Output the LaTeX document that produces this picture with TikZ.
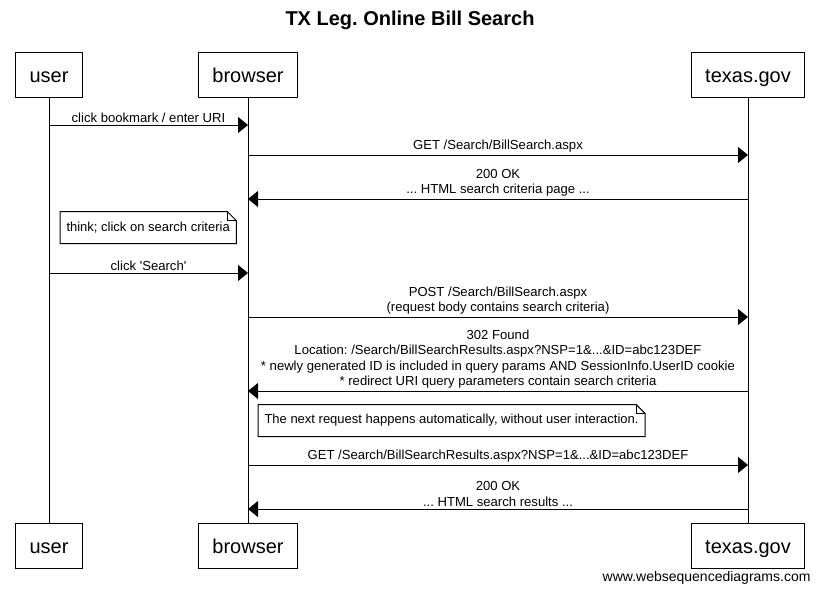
\documentclass[tikz,border=0pt]{standalone}
\usepackage{fontspec}
\setmainfont{Liberation Sans}
\usetikzlibrary{arrows.meta,positioning}
\tikzset{
  actor/.style={draw, minimum height=45pt, inner xsep=14pt, inner ysep=0pt,
                text height=15pt, text depth=0pt,
                font=\fontsize{20}{24}\selectfont},
  msg/.style={-{Triangle[length=10pt,width=16pt]}},
  lbl/.style={above, inner sep=2pt, align=center,
              font=\fontsize{13.1}{15.5}\selectfont},
  memo/.style={anchor=west, inner xsep=6pt, minimum height=31pt,
               font=\fontsize{13}{15.5}\selectfont}
}
\newcommand{\dogear}[1]{%
  \draw (#1.north west) -- ([xshift=-9pt]#1.north east)
        -- ([yshift=-9pt]#1.north east) -- (#1.south east)
        -- (#1.south west) -- cycle;
  \draw ([xshift=-9pt]#1.north east) -- ([xshift=-9pt,yshift=-9pt]#1.north east)
        -- ([yshift=-9pt]#1.north east);}
\begin{document}
\frenchspacing
\begin{tikzpicture}[x=1pt, y=-1pt, line width=1pt]
    \useasboundingbox (0,0) rectangle (820,592);
    %Title
    \node[font=\bfseries\fontsize{20}{24}\selectfont] (title) at (410,20) {TX Leg. Online Bill Search};
    %Participants
    \node[actor] (user) at (49,74.5) {user};
    \node[actor] (browser) at (248,74.5) {browser};
    \node[actor] (texas) at (748,74.5) {texas.gov};
    \node[actor] (userB) at (49,545.5) {user};
    \node[actor] (browserB) at (248,545.5) {browser};
    \node[actor] (texasB) at (748,545.5) {texas.gov};
    %Lifelines
    \foreach \p in {user, browser, texas}
      \draw (\p.south) -- (\p B.north);
    %Messages
    \draw[msg] (user.south |- 0,125) -- (browser.south |- 0,125)
      node[lbl, midway] {click bookmark / enter URI};
    \draw[msg] (browser.south |- 0,155) -- (texas.south |- 0,155)
      node[lbl, midway] {GET /Search/BillSearch.aspx};
    \draw[msg] (texas.south |- 0,199) -- (browser.south |- 0,199)
      node[lbl, midway] {200 OK\\... HTML search criteria page ...};
    %Note: think
    \node[memo] (think) at (60,227.5) {think; click on search criteria};
    \dogear{think}
    \draw[msg] (user.south |- 0,273) -- (browser.south |- 0,273)
      node[lbl, midway] {click \textquotesingle Search\textquotesingle};
    \draw[msg] (browser.south |- 0,317) -- (texas.south |- 0,317)
      node[lbl, midway] {POST /Search/BillSearch.aspx\\(request body contains search criteria)};
    \draw[msg] (texas.south |- 0,391) -- (browser.south |- 0,391)
      node[lbl, midway] {302 Found\\Location: /Search/BillSearchResults.aspx?NSP=1\&...\&ID=abc123DEF\\
        * newly generated ID is included in query params AND SessionInfo.UserID cookie\\
        * redirect URI query parameters contain search criteria};
    %Note: redirect
    \node[memo] (auto) at (258,420.5) {The next request happens automatically, without user interaction.};
    \dogear{auto}
    \draw[msg] (browser.south |- 0,465) -- (texas.south |- 0,465)
      node[lbl, midway] {GET /Search/BillSearchResults.aspx?NSP=1\&...\&ID=abc123DEF};
    \draw[msg] (texas.south |- 0,509) -- (browser.south |- 0,509)
      node[lbl, midway] {200 OK\\... HTML search results ...};
    %Footer
    \node[anchor=base east, inner sep=0pt, font=\fontsize{14}{16}\selectfont] (wsd) at (811,581)
      {www.websequencediagrams.com};
\end{tikzpicture}
\end{document}
